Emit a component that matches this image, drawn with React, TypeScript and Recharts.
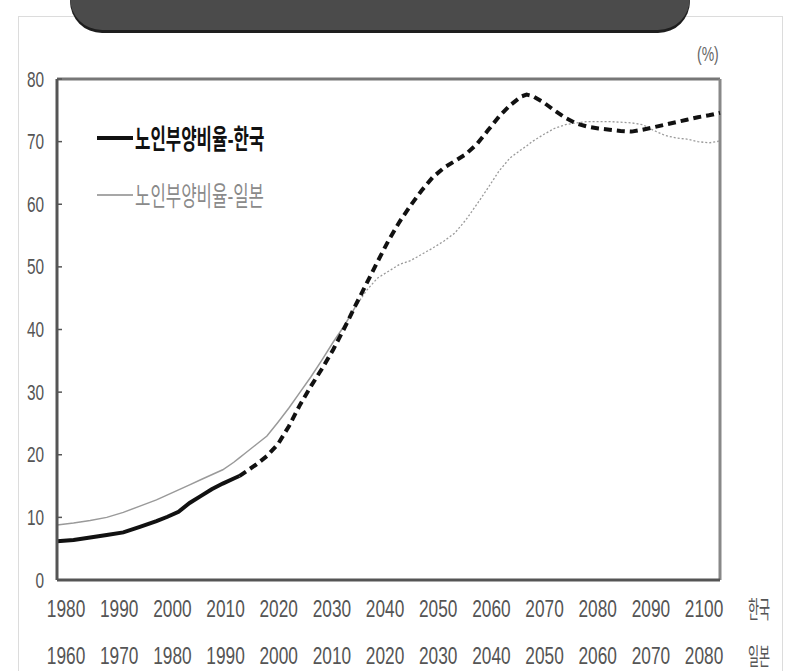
import { LineChart, Line, XAxis, YAxis, ReferenceLine } from "recharts";

// x positions are Korean years; the Japanese series is shifted 20 years (Japan year = Korean year - 20)
const YEARS = [
  1980, 1983, 1986, 1989, 1992, 1995, 1998, 2000, 2002, 2004, 2006, 2008, 2010, 2012, 2013, 2014,
  2016, 2018, 2020, 2022, 2024, 2026, 2028, 2030, 2032, 2034, 2036, 2038, 2040, 2042, 2044, 2046,
  2048, 2050, 2052, 2054, 2056, 2058, 2060, 2062, 2064, 2065, 2066, 2068, 2070, 2072, 2074, 2076,
  2078, 2080, 2082, 2084, 2086, 2088, 2090, 2092, 2094, 2096, 2098, 2100,
];
const KOREA = [
  6.2, 6.4, 6.8, 7.2, 7.6, 8.5, 9.4, 10.1, 10.9, 12.3, 13.4, 14.5, 15.4, 16.2, 16.6, 17.2,
  18.4, 19.8, 21.7, 24.6, 28.0, 31.0, 33.8, 36.8, 40.2, 43.8, 47.3, 50.8, 54.2, 57.2, 59.8, 62.2,
  64.3, 65.8, 66.9, 68.0, 69.6, 71.8, 74.0, 75.8, 77.2, 77.5, 77.3, 76.3, 75.0, 73.8, 72.9, 72.4,
  72.1, 71.9, 71.7, 71.6, 71.9, 72.3, 72.7, 73.1, 73.5, 73.9, 74.2, 74.6,
];
const JAPAN = [
  8.8, 9.1, 9.5, 10.0, 10.8, 11.8, 12.8, 13.6, 14.4, 15.2, 16.0, 16.8, 17.6, 18.8, 19.5, 20.2,
  21.6, 23.0, 25.2, 27.5, 30.0, 32.5, 35.2, 38.0, 40.6, 43.6, 46.2, 48.2, 49.3, 50.4, 51.0, 52.0,
  53.0, 54.1, 55.4, 57.5, 60.0, 62.6, 65.3, 67.4, 68.7, 69.3, 70.0, 71.1, 72.1, 72.7, 73.0, 73.2,
  73.2, 73.2, 73.1, 73.0, 72.7, 71.8, 71.0, 70.6, 70.4, 70.0, 69.8, 70.1,
];
const YEAR_SHIFT = 20;
const KOREA_LAST_ACTUAL = 2013;
const JAPAN_LAST_ACTUAL = 2034; // on the Korean-year axis (Japan 2014)

const KOREA_TICKS = [1980, 1990, 2000, 2010, 2020, 2030, 2040, 2050, 2060, 2070, 2080, 2090, 2100];
const JAPAN_TICKS = [1960, 1970, 1980, 1990, 2000, 2010, 2020, 2030, 2040, 2050, 2060, 2070, 2080];
const Y_TICKS = [0, 10, 20, 30, 40, 50, 60, 70, 80];

const KOREA_NAME = "노인부양비율-한국";
const JAPAN_NAME = "노인부양비율-일본";

const data = YEARS.map((year, i) => ({
  year,
  jpYear: year - YEAR_SHIFT,
  kr: KOREA[i],
  krActual: year <= KOREA_LAST_ACTUAL ? KOREA[i] : null,
  krProj: year >= KOREA_LAST_ACTUAL ? KOREA[i] : null,
  jpActual: year <= JAPAN_LAST_ACTUAL ? JAPAN[i] : null,
  jpProj: year >= JAPAN_LAST_ACTUAL ? JAPAN[i] : null,
}));

const NUM_FONT = "'Liberation Sans', Arial, sans-serif";
const KR_FONT = "'Noto Sans CJK KR', sans-serif";

function YTick({ x, y, payload }: any) {
  return (
    <g>
      <line x1={x} y1={y} x2={x + 5} y2={y} stroke="#555" strokeWidth={1.5} />
      <g transform={`translate(${x - 13},${y})`}>
        <text
          transform="scale(0.7,1)"
          textAnchor="end"
          dominantBaseline="central"
          fontSize={22}
          fontFamily={NUM_FONT}
          fill="#555"
        >
          {payload.value}
        </text>
      </g>
    </g>
  );
}

function XTick({ x, y, payload, dy }: any) {
  return (
    <g transform={`translate(${x},${y + dy})`}>
      <text
        transform="scale(0.72,1)"
        textAnchor="middle"
        dominantBaseline="central"
        fontSize={24}
        fontFamily={NUM_FONT}
        fill="#555"
      >
        {payload.value}
      </text>
    </g>
  );
}

function LegendRow({ name, color, width, weight, top }: any) {
  return (
    <div style={{ position: "absolute", left: 0, top, display: "flex", alignItems: "center", height: 30 }}>
      <svg width={38} height={10} style={{ display: "block" }}>
        <line x1={0} y1={5} x2={36} y2={5} stroke={color} strokeWidth={width} />
      </svg>
      <span
        style={{
          display: "inline-block",
          fontFamily: KR_FONT,
          fontSize: 27,
          fontWeight: weight,
          color,
          transform: "scale(0.62,1)",
          transformOrigin: "left center",
          whiteSpace: "nowrap",
          lineHeight: "30px",
        }}
      >
        {name}
      </span>
    </div>
  );
}

const sideLabel = (top: number): React.CSSProperties => ({
  position: "absolute",
  left: 748,
  top,
  fontFamily: KR_FONT,
  fontSize: 24,
  color: "#555",
  transform: "scale(0.5,1)",
  transformOrigin: "left top",
  whiteSpace: "nowrap",
  lineHeight: "26px",
});

export default function App() {
  return (
    <div
      style={{
        position: "absolute",
        left: 0,
        top: 0,
        width: 786,
        height: 671,
        overflow: "hidden",
        background: "#fff",
      }}
    >
      {/* outer frame */}
      <div
        style={{
          position: "absolute",
          left: 18,
          top: 16,
          width: 763,
          height: 700,
          border: "1px solid #dcdcdc",
        }}
      />
      {/* title banner (cut off at the top) */}
      <div
        style={{
          position: "absolute",
          left: 70,
          top: -20,
          width: 620,
          height: 50,
          background: "#4b4b4b",
          borderRadius: "0 0 32px 32px",
          boxShadow: "0 3px 0 #1e1e1e",
        }}
      />
      <div
        style={{
          position: "absolute",
          left: 697,
          top: 43,
          fontFamily: NUM_FONT,
          fontSize: 20,
          color: "#666",
          transform: "scale(0.7,1)",
          transformOrigin: "left top",
        }}
      >
        (%)
      </div>
      <div style={{ position: "absolute", left: 0, top: 0 }}>
        <LineChart
          width={786}
          height={671}
          data={data}
          margin={{ top: 79, right: 66, bottom: 1, left: 17 }}
        >
          <XAxis
            xAxisId="a_data"
            dataKey="year"
            type="number"
            domain={[1980, 2100]}
            height={0}
            hide
          />
          <XAxis
            xAxisId="b_kr"
            dataKey="year"
            type="number"
            domain={[1978.3, 2103]}
            ticks={KOREA_TICKS}
            allowDataOverflow
            height={45}
            tickSize={0}
            tickMargin={0}
            tickLine={false}
            axisLine={{ stroke: "#555", strokeWidth: 3 }}
            tick={<XTick dy={28} />}
          />
          <XAxis
            xAxisId="c_jp"
            dataKey="jpYear"
            type="number"
            domain={[1958.3, 2083]}
            ticks={JAPAN_TICKS}
            allowDataOverflow
            height={45}
            tickSize={0}
            tickMargin={0}
            tickLine={false}
            axisLine={false}
            tick={<XTick dy={30} />}
          />
          <YAxis
            type="number"
            domain={[0, 80]}
            ticks={Y_TICKS}
            width={40}
            tickSize={0}
            tickMargin={0}
            tickLine={false}
            axisLine={{ stroke: "#555", strokeWidth: 3 }}
            tick={<YTick />}
          />
          <ReferenceLine xAxisId="a_data" y={80} stroke="#777" strokeWidth={3} />
          <ReferenceLine xAxisId="a_data" x={2100} stroke="#888" strokeWidth={3} />
          {/* invisible carriers so the label axes get their scales */}
          <Line xAxisId="b_kr" dataKey="kr" stroke="none" dot={false} activeDot={false} isAnimationActive={false} />
          <Line xAxisId="c_jp" dataKey="kr" stroke="none" dot={false} activeDot={false} isAnimationActive={false} />
          <Line
            xAxisId="a_data"
            dataKey="jpActual"
            stroke="#9a9a9a"
            strokeWidth={1.5}
            dot={false}
            connectNulls={false}
            isAnimationActive={false}
          />
          <Line
            xAxisId="a_data"
            dataKey="jpProj"
            stroke="#9a9a9a"
            strokeWidth={1.3}
            strokeDasharray="2 2"
            dot={false}
            connectNulls={false}
            isAnimationActive={false}
          />
          <Line
            xAxisId="a_data"
            dataKey="krActual"
            stroke="#111"
            strokeWidth={4}
            dot={false}
            connectNulls={false}
            isAnimationActive={false}
          />
          <Line
            xAxisId="a_data"
            dataKey="krProj"
            stroke="#111"
            strokeWidth={4}
            strokeDasharray="8 5"
            dot={false}
            connectNulls={false}
            isAnimationActive={false}
          />
        </LineChart>
      </div>
      <div style={{ position: "absolute", left: 97, top: 123, width: 220, height: 90 }}>
        <LegendRow name={KOREA_NAME} color="#111" width={4} weight={700} top={0} />
        <LegendRow name={JAPAN_NAME} color="#8a8a8a" width={1.5} weight={400} top={57} />
      </div>
      <div style={sideLabel(595)}>한국</div>
      <div style={sideLabel(642)}>일본</div>
    </div>
  );
}
